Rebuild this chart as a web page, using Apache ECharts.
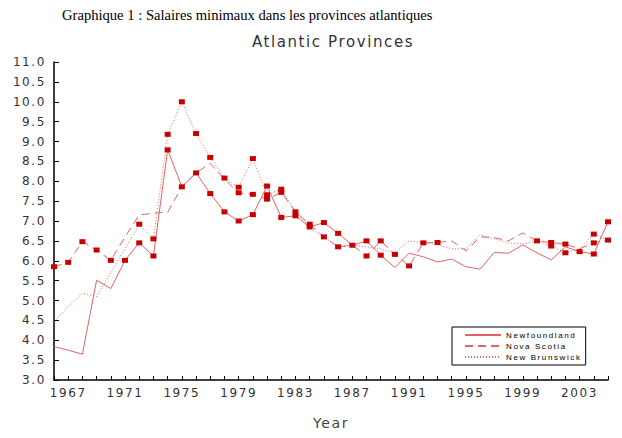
<!DOCTYPE html>
<html>
<head>
<meta charset="utf-8">
<script src="https://cdn.jsdelivr.net/npm/echarts@6/dist/echarts.min.js"></script>
<style>
  html, body { margin: 0; padding: 0; background: #fff; }
  #main { width: 622px; height: 438px; }
  #main text { letter-spacing: 1.6px; }
  #main text[style*="Serif"], #main text[font-family*="Serif"] { letter-spacing: 0; }
</style>
</head>
<body>
<div id="main"></div>
<script>
// ---- data ----
const years = [1966,1967,1968,1969,1970,1971,1972,1973,1974,1975,1976,1977,1978,1979,1980,1981,1982,1983,1984,1985,1986,1987,1988,1989,1990,1991,1992,1993,1994,1995,1996,1997,1998,1999,2000,2001,2002,2003,2004,2005];

const newfoundland = [3.84,3.75,3.65,5.51,5.30,6.01,6.45,6.12,8.79,7.86,8.21,7.69,7.23,7.00,7.16,7.88,7.09,7.13,6.85,6.96,6.69,6.39,6.50,6.14,5.83,6.19,6.10,5.97,6.04,5.85,5.79,6.21,6.19,6.40,6.20,6.02,6.35,6.23,6.17,6.98];
const novaScotia   = [5.85,5.96,6.48,6.27,6.01,6.60,7.15,7.20,7.22,7.86,8.21,8.45,8.05,7.71,7.67,7.55,7.72,7.23,6.92,6.60,6.35,6.39,6.12,6.50,6.16,5.87,6.45,6.46,6.50,6.25,6.60,6.58,6.50,6.70,6.50,6.46,6.42,6.30,6.45,6.52];
const newBrunswick = [4.47,4.85,5.18,5.10,5.70,6.30,6.92,6.55,9.18,10.00,9.20,8.60,8.08,7.85,8.57,7.66,7.80,7.23,6.83,6.60,6.35,6.40,6.35,6.30,6.20,6.50,6.45,6.40,6.30,6.30,6.65,6.55,6.45,6.42,6.50,6.37,6.20,6.30,6.67,6.52];

// years whose point carries a square marker in the reference
const markedNewfoundland = [1971,1972,1973,1974,1975,1976,1977,1978,1979,1980,1981,1982,1983,1984,1985,1986,1987,1988,1989,2003,2004,2005];
const markedNovaScotia   = [1966,1967,1968,1969,1970,1979,1980,1981,1982,1983,1984,1985,1986,1988,1989,1990,1991,1992,1993,2000,2001,2002,2004,2005];
const markedNewBrunswick = [1972,1973,1974,1975,1976,1977,1978,1979,1980,1981,1982,2001,2002,2004];

const seriesNames = ['Newfoundland', 'Nova Scotia', 'New Brunswick'];
const xTickLabels = [1967,1971,1975,1979,1983,1987,1991,1995,1999,2003];
const yTickLabels = ['3.0','3.5','4.0','4.5','5.0','5.5','6.0','6.5','7.0','7.5','8.0','8.5','9.0','9.5','10.0','10.5','11.0'];

const titleText = 'Graphique 1 : Salaires minimaux dans les provinces atlantiques';
const subtitleText = 'Atlantic Provinces';
const xAxisName = 'Year';

// ---- chart ----
const LINE = '#e06464';
const MARK = '#c80000';
const AXIS_FONT = 'DejaVu Sans';

function build(values, marked) {
  return years.map((y, i) => {
    const item = { value: [y, values[i]] };
    if (marked.indexOf(y) >= 0) {
      item.symbol = 'rect';
      item.symbolSize = [6, 5];
    }
    return item;
  });
}

function lineSeries(name, values, marked, type) {
  return {
    name: name,
    type: 'line',
    data: build(values, marked),
    symbol: 'none',
    showSymbol: true,
    symbolSize: [6, 5],
    itemStyle: { color: MARK },
    lineStyle: { color: LINE, width: 1, type: type },
    emphasis: { disabled: true },
    animation: false,
    clip: false,
    z: 2
  };
}

const chart = echarts.init(document.getElementById('main'), null, { renderer: 'svg' });
chart.setOption({
  backgroundColor: '#fff',
  animation: false,
  title: [
    {
      text: titleText,
      left: 57, top: 2,
      textStyle: { fontFamily: 'Liberation Serif', fontSize: 14.6, fontWeight: 'normal', color: '#000' }
    },
    {
      text: subtitleText,
      left: 328, top: 29, textAlign: 'center',
      textStyle: { fontFamily: AXIS_FONT, fontSize: 15, fontWeight: 'normal', color: '#333' }
    }
  ],
  legend: {
    orient: 'vertical',
    left: 452, top: 327,
    data: seriesNames,
    itemWidth: 36, itemHeight: 8, itemGap: 3,
    padding: [4, 25, 4, 12],
    borderColor: '#000', borderWidth: 1,
    backgroundColor: '#fff',
    selectedMode: false,
    itemStyle: { opacity: 0 },
    textStyle: { fontFamily: 'Liberation Sans', fontSize: 8, color: '#000' },
    z: 10
  },
  grid: { left: 54, top: 62, right: 14, bottom: 58, containLabel: false },
  xAxis: {
    type: 'value',
    min: 1966, max: 2005, interval: 1,
    name: xAxisName, nameLocation: 'middle', nameGap: 36,
    nameTextStyle: { fontFamily: AXIS_FONT, fontSize: 14, color: '#444' },
    axisLine: { show: true, lineStyle: { color: '#000', width: 1.5 } },
    axisTick: { show: true, inside: true, length: 4, lineStyle: { color: '#000', width: 1 } },
    splitLine: { show: false },
    axisLabel: {
      margin: 7, fontFamily: AXIS_FONT, fontSize: 12, color: '#333', showMinLabel: true, showMaxLabel: true,
      formatter: v => (xTickLabels.indexOf(v) >= 0 ? String(v) : '')
    }
  },
  yAxis: {
    type: 'value',
    min: 3, max: 11, interval: 0.5,
    axisLine: { show: true, lineStyle: { color: '#000', width: 1.5 } },
    axisTick: { show: true, inside: true, length: 5, lineStyle: { color: '#000', width: 1 } },
    splitLine: { show: false },
    axisLabel: {
      margin: 8, fontFamily: AXIS_FONT, fontSize: 12, color: '#333',
      formatter: v => yTickLabels[Math.round((v - 3) / 0.5)]
    }
  },
  series: [
    lineSeries(seriesNames[0], newfoundland, markedNewfoundland, 'solid'),
    lineSeries(seriesNames[1], novaScotia, markedNovaScotia, [8, 5]),
    lineSeries(seriesNames[2], newBrunswick, markedNewBrunswick, [1, 2])
  ]
});
</script>
</body>
</html>
